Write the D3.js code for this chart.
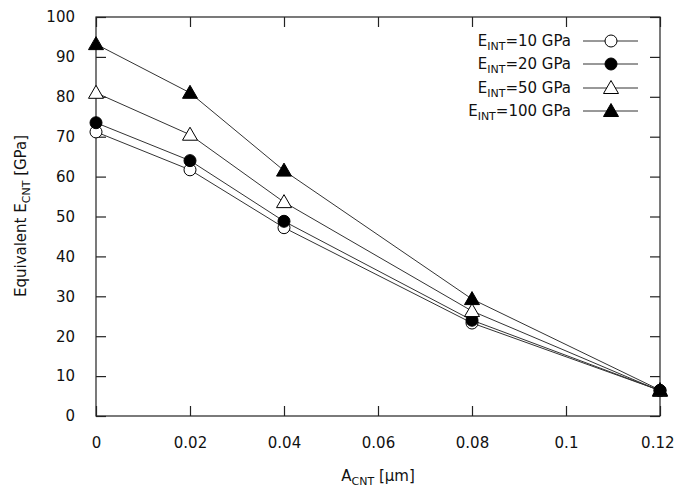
<!DOCTYPE html>
<html><head><meta charset="utf-8">
<script src="https://cdn.jsdelivr.net/npm/d3@7"></script>
<style>body{margin:0;background:#fff}svg{display:block}text{font-family:"DejaVu Sans",sans-serif;font-size:15px;fill:#111}</style>
</head><body><svg id="c" width="675" height="487"></svg>
<script>
const xValues = [0, 0.02, 0.04, 0.08, 0.12];
const e10 = [71.2, 61.7, 47.2, 23.3, 6.4];
const e20 = [73.5, 64.0, 48.8, 24.0, 6.4];
const e50 = [81.0, 70.5, 53.6, 26.3, 6.3];
const e100 = [93.2, 81.0, 61.5, 29.3, 6.5];
const seriesNames = ["10", "20", "50", "100"];
const xTicks = [0, 0.02, 0.04, 0.06, 0.08, 0.1, 0.12];
const yTicks = [0, 10, 20, 30, 40, 50, 60, 70, 80, 90, 100];

const series = [
  {name: seriesNames[0], vals: e10, shape: "circle", fill: "#fff"},
  {name: seriesNames[1], vals: e20, shape: "circle", fill: "#000"},
  {name: seriesNames[2], vals: e50, shape: "tri", fill: "#fff"},
  {name: seriesNames[3], vals: e100, shape: "tri", fill: "#000"}
];

const svg = d3.select("#c");
const L = 96, R = 660, T = 17, B = 416;
const x = d3.scaleLinear().domain([0, 0.12]).range([L, R]);
const y = d3.scaleLinear().domain([0, 100]).range([B, T]);
const tickLen = 10;
const FS = 15, SUB = 11;
const fmtX = d => d === 0 ? "0" : String(+d.toFixed(2));

// frame
svg.append("rect").attr("x", L).attr("y", T).attr("width", R - L).attr("height", B - T)
  .attr("fill", "none").attr("stroke", "#222").attr("stroke-width", 1.2);

// axes with inward ticks
const gx = svg.append("g").attr("transform", `translate(0,${B})`)
  .call(d3.axisBottom(x).tickValues(xTicks).tickFormat(fmtX).tickSizeInner(-tickLen).tickSizeOuter(0).tickPadding(tickLen + 11));
const gxt = svg.append("g").attr("transform", `translate(0,${T})`)
  .call(d3.axisTop(x).tickValues(xTicks).tickFormat("").tickSizeInner(-tickLen).tickSizeOuter(0));
const gy = svg.append("g").attr("transform", `translate(${L},0)`)
  .call(d3.axisLeft(y).tickValues(yTicks).tickSizeInner(-tickLen).tickSizeOuter(0).tickPadding(tickLen + 11));
const gyr = svg.append("g").attr("transform", `translate(${R},0)`)
  .call(d3.axisRight(y).tickValues(yTicks).tickFormat("").tickSizeInner(-tickLen).tickSizeOuter(0));
[gx, gxt, gy, gyr].forEach(g => {
  g.select(".domain").remove();
  g.selectAll("line").attr("stroke", "#222").attr("stroke-width", 1.2);
  g.selectAll("text").attr("font-size", FS).attr("font-family", "DejaVu Sans").attr("fill", "#111");
});
// keep the last x label inside the window
gx.selectAll("text").filter(d => d === 0.12).attr("text-anchor", "end").attr("x", 14);

// axis labels
const yl = svg.append("text").attr("transform", "translate(26,216) rotate(-90)").attr("text-anchor", "middle");
yl.append("tspan").text("Equivalent E");
yl.append("tspan").attr("font-size", SUB).attr("dy", 4).text("CNT");
yl.append("tspan").attr("dy", -4).text(" [GPa]");

const xl = svg.append("text").attr("x", 378).attr("y", 481).attr("text-anchor", "middle");
xl.append("tspan").text("A");
xl.append("tspan").attr("font-size", SUB).attr("dy", 4).text("CNT");
xl.append("tspan").attr("dy", -4).text(" [μm]");

const line = d3.line().x((d, i) => x(xValues[i])).y(d => y(d));
function marker(g, s, cx, cy) {
  if (s.shape === "circle") {
    g.append("circle").attr("cx", cx).attr("cy", cy).attr("r", 6)
      .attr("fill", s.fill).attr("stroke", "#000").attr("stroke-width", 1);
  } else {
    const h = 6.5;
    g.append("path").attr("d", `M${cx},${cy - h - 1}L${cx + h + 1},${cy + h - 1}L${cx - h - 1},${cy + h - 1}Z`)
      .attr("fill", s.fill).attr("stroke", "#000").attr("stroke-width", 1);
  }
}

const plot = svg.append("g");
series.forEach(s => {
  plot.append("path").datum(s.vals).attr("d", line).attr("fill", "none")
    .attr("stroke", "#333").attr("stroke-width", 1);
});
series.forEach(s => {
  s.vals.forEach((v, i) => marker(plot, s, x(xValues[i]), y(v)));
});

// legend
const legY = [41, 64, 88, 111];
series.forEach((s, i) => {
  const g = svg.append("g");
  const t = g.append("text").attr("x", 571).attr("y", legY[i] + 5).attr("text-anchor", "end");
  t.append("tspan").text("E");
  t.append("tspan").attr("font-size", SUB).attr("dy", 4).text("INT");
  t.append("tspan").attr("dy", -4).text("=" + s.name + " GPa");
  g.append("line").attr("x1", 583).attr("x2", 638).attr("y1", legY[i]).attr("y2", legY[i])
    .attr("stroke", "#333").attr("stroke-width", 1);
  marker(g, s, 611, legY[i]);
});
</script></body></html>
